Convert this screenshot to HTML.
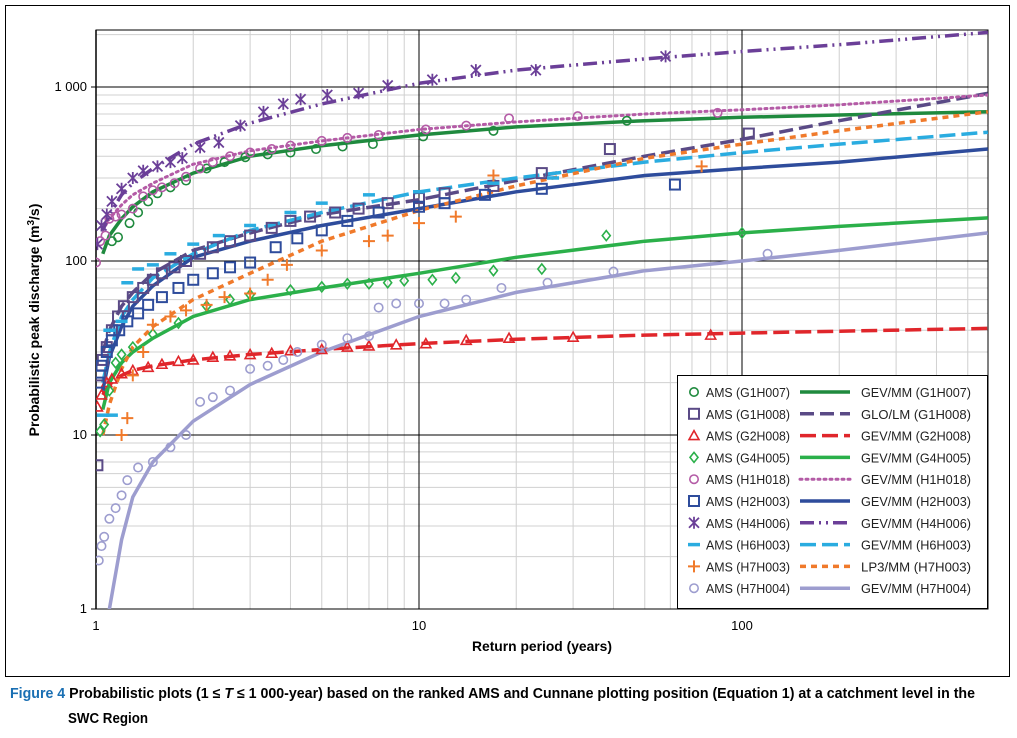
<!DOCTYPE html>
<html><head><meta charset="utf-8"><style>
body{margin:0;background:#fff;width:1017px;height:733px;overflow:hidden;font-family:"Liberation Sans Narrow","Liberation Sans",sans-serif}
svg text{font-family:"Liberation Sans Narrow","Liberation Sans",sans-serif}
</style></head><body>
<svg id="c" width="1017" height="733"></svg>
<script>
const xTicks=[1,10,100];
const yTicks=[1,10,100,1000];
const yTickLabels=["1","10","100","1 000"];
const T_G1H007=[1.12,1.17,1.27,1.35,1.45,1.55,1.7,1.9,2.2,2.5,2.9,3.4,4.0,4.8,5.8,7.2,10.3,17,44];
const Q_G1H007=[130,137,165,190,220,245,265,290,340,370,395,410,420,440,455,470,520,560,640];
const T_G1H008=[1.01,1.03,1.05,1.08,1.12,1.17,1.22,1.3,1.4,1.5,1.6,1.75,1.9,2.1,2.3,2.6,3.0,3.5,4.0,4.6,5.5,6.5,8,10,12,17,24,39,105];
const Q_G1H008=[6.7,22,27,32,40,48,55,62,70,78,85,92,100,110,120,130,140,155,170,180,190,200,215,230,245,270,320,440,540];
const T_G2H008=[1.01,1.04,1.08,1.12,1.2,1.3,1.45,1.6,1.8,2,2.3,2.6,3,3.5,4,5,6,7,8.5,10.5,14,19,30,80];
const Q_G2H008=[14.5,17,20,21,22.5,23.5,24.5,25.5,26.5,27,28,28.5,29,29.5,30.5,31,32,32.5,33,33.5,35,36,36.5,37.5];
const T_G4H005=[1.03,1.06,1.1,1.15,1.2,1.3,1.5,1.8,2.2,2.6,3,4,5,6,7,8,9,11,13,17,24,38,100];
const Q_G4H005=[10.5,11.5,18,26,29,32,38,44,55,60,64,68,71,74,74,75,77,78,80,88,90,140,145];
const T_H1H018=[1.0,1.03,1.07,1.1,1.15,1.2,1.3,1.4,1.5,1.6,1.75,1.9,2.1,2.3,2.6,3,3.5,4,5,6,7.5,10.5,14,19,31,84];
const Q_H1H018=[98,130,140,175,180,185,200,235,255,265,280,305,340,370,400,420,440,460,490,510,530,570,600,660,680,710];
const T_H2H003=[1.02,1.04,1.08,1.12,1.18,1.25,1.35,1.45,1.6,1.8,2,2.3,2.6,3,3.6,4.2,5,6,7.5,10,12,16,24,62];
const Q_H2H003=[20,25,30,35,40,45,50,56,62,70,78,85,92,98,120,135,150,170,190,205,215,240,260,275];
const T_H4H006=[1.01,1.04,1.08,1.12,1.2,1.3,1.4,1.55,1.7,1.85,2.1,2.4,2.8,3.3,3.8,4.3,5.2,6.5,8,11,15,23,58];
const Q_H4H006=[125,160,185,220,260,300,330,350,370,390,450,480,600,720,800,850,900,920,1020,1100,1250,1250,1500];
const T_H6H003=[1.05,1.12,1.1,1.2,1.25,1.35,1.5,1.7,2,2.4,3,4,5,7,10,17,26];
const Q_H6H003=[13,13,40,45,75,90,95,110,125,140,160,190,215,240,250,280,300];
const T_H7H003=[1.2,1.25,1.3,1.4,1.5,1.7,1.9,2.2,2.5,3,3.4,3.9,5,7,8,10,13,17,75];
const Q_H7H003=[10,12.5,22,30,43,48,52,56,62,65,78,95,115,130,140,165,180,310,350];
const T_H7H004=[1.02,1.04,1.06,1.1,1.15,1.2,1.25,1.35,1.5,1.7,1.9,2.1,2.3,2.6,3,3.4,3.8,4.2,5,6,7,7.5,8.5,10,12,14,18,25,40,120];
const Q_H7H004=[1.9,2.3,2.6,3.3,3.8,4.5,5.5,6.5,7,8.5,10,15.5,16.5,18,24,25,27,30,33,36,37,54,57,57,57,60,70,75,87,110];
const fitT=[1.05,1.1,1.2,1.3,1.5,2,3,5,10,20,50,100,200,577];
const F_G1H007=[110,140,175,205,250,320,400,460,530,590,640,670,690,720];
const F_G1H008=[30,40,55,66,85,115,145,185,225,290,400,500,640,920];
const F_G2H008=[17,19.5,22,23.5,25,27,29,31,33.5,35.5,37.5,38.5,39.5,41];
const F_G4H005=[14,20,26,30,36,48,60,70,85,105,130,145,158,177];
const F_H1H018=[150,175,210,240,280,360,430,490,570,630,700,740,790,900];
const F_H2H003=[18,28,42,55,72,105,130,160,200,250,310,340,370,440];
const F_H4H006=[150,185,240,280,340,470,620,800,1050,1250,1450,1600,1750,2060];
const F_H6H003=[20,30,48,60,80,110,150,190,250,300,370,420,470,550];
const F_H7H003=[10,15,24,32,42,60,85,130,195,270,390,470,560,720];
const F_H7H004=[0.5,1,2.5,4.4,7,12,19.5,30,48,66,88,100,115,145];

const X0=96,DEC=323,Y0=609,YDEC=174,XR=988,YT=30;
const xs=t=>X0+Math.log10(t)*DEC, ys=q=>Y0-Math.log10(q)*YDEC;
const S='http://www.w3.org/2000/svg', svg=document.getElementById('c');
function mk(tag,at,par){const e=document.createElementNS(S,tag);for(const k in at)e.setAttribute(k,at[k]);(par||svg).appendChild(e);return e;}
let fr=mk('rect',{x:5.5,y:5.5,width:1004,height:671,fill:'none',stroke:'#000','stroke-width':1});


const g=mk('g',{});


for(let d=0;d<3;d++)for(let m=2;m<=9;m++){const t=Math.pow(10,d)*m;const x=xs(t);if(x<XR)mk('line',{x1:x,x2:x,y1:YT,y2:Y0,stroke:'#d0d0d0','stroke-width':1},g);}
for(let d=0;d<4;d++)for(let m=2;m<=9;m++){const y=ys(Math.pow(10,d)*m);if(y>YT)mk('line',{x1:X0,x2:XR,y1:y,y2:y,stroke:'#d0d0d0','stroke-width':1},g);}
xTicks.forEach((t,i)=>{const x=xs(t);if(i>0)mk('line',{x1:x,x2:x,y1:YT,y2:Y0,stroke:'#000','stroke-width':1},g);
 const tx=mk('text',{x:x,y:Y0+21,'text-anchor':'middle','font-size':13});tx.textContent=t;
 
 });
yTicks.forEach((q,i)=>{const y=ys(q);if(i>0)mk('line',{x1:X0,x2:XR,y1:y,y2:y,stroke:'#000','stroke-width':1},g);
 mk('line',{x1:X0-5,x2:X0,y1:y,y2:y,stroke:'#000'});
 const tx=mk('text',{x:X0-9,y:y+4,'text-anchor':'end','font-size':13});tx.textContent=yTickLabels[i];
 
 });
mk('rect',{x:X0,y:YT,width:XR-X0,height:Y0-YT,fill:'none',stroke:'#000','stroke-width':1});
mk('line',{x1:X0,x2:X0,y1:YT,y2:Y0,stroke:'#000','stroke-width':1.5});
let xt=mk('text',{x:542,y:651,'text-anchor':'middle','font-size':14,'font-weight':'bold',textLength:140,lengthAdjust:'spacingAndGlyphs'});xt.textContent='Return period (years)';


let yt=mk('text',{x:0,y:0,'text-anchor':'middle','font-size':14,'font-weight':'bold',transform:'translate(39,320) rotate(-90)'});
yt.innerHTML='Probabilistic peak discharge (m<tspan dy="-5" font-size="10">3</tspan><tspan dy="5">/s)</tspan>';



function marker(type,x,y,col,par){
 const w=1.6;
 if(type==='circle')return mk('circle',{cx:x,cy:y,r:4.2,fill:'none',stroke:col,'stroke-width':w},par);
 if(type==='square')return mk('rect',{x:x-5,y:y-5,width:10,height:10,fill:'none',stroke:col,'stroke-width':2},par);
 if(type==='triangle')return mk('polygon',{points:`${x},${y-5} ${x+5},${y+4} ${x-5},${y+4}`,fill:'none',stroke:col,'stroke-width':w},par);
 if(type==='diamond')return mk('polygon',{points:`${x},${y-5} ${x+4},${y} ${x},${y+5} ${x-4},${y}`,fill:'none',stroke:col,'stroke-width':w},par);
 if(type==='star')return mk('path',{d:`M${x-5} ${y-5}L${x+5} ${y+5}M${x+5} ${y-5}L${x-5} ${y+5}M${x} ${y-6}V${y+6}`,stroke:col,'stroke-width':1.8},par);
 if(type==='dash')return mk('line',{x1:x-6,x2:x+6,y1:y,y2:y,stroke:col,'stroke-width':3.5},par);
 if(type==='plus')return mk('path',{d:`M${x-6} ${y}H${x+6}M${x} ${y-6}V${y+6}`,stroke:col,'stroke-width':2},par);
}
const series=[
 ['G1H007','circle','#1f8a3e',T_G1H007,Q_G1H007,F_G1H007,'GEV/MM','',3.5],
 ['G1H008','square','#5a4a86',T_G1H008,Q_G1H008,F_G1H008,'GLO/LM','14 6',3.5],
 ['G2H008','triangle','#e0262b',T_G2H008,Q_G2H008,F_G2H008,'GEV/MM','16 6',3.5],
 ['G4H005','diamond','#2bb04a',T_G4H005,Q_G4H005,F_G4H005,'GEV/MM','',3.5],
 ['H1H018','circle','#b45ba6',T_H1H018,Q_H1H018,F_H1H018,'GEV/MM','2 4',3],
 ['H2H003','square','#2e4c9c',T_H2H003,Q_H2H003,F_H2H003,'GEV/MM','',3.5],
 ['H4H006','star','#6b3f98',T_H4H006,Q_H4H006,F_H4H006,'GEV/MM','14 5 2 5 2 5',3.5],
 ['H6H003','dash','#2aace0',T_H6H003,Q_H6H003,F_H6H003,'GEV/MM','16 6',3.5],
 ['H7H003','plus','#f07a2b',T_H7H003,Q_H7H003,F_H7H003,'LP3/MM','6 5',3.5],
 ['H7H004','circle','#9d9dcf',T_H7H004,Q_H7H004,F_H7H004,'GEV/MM','',3.5]
];
const clip=mk('clipPath',{id:'pc'});mk('rect',{x:X0,y:YT,width:XR-X0,height:Y0-YT},clip);
series.forEach(s=>{
 const [id,type,col,T,Q,F,fn,da,lw]=s;
 const gl=mk('g',{'clip-path':'url(#pc)'});
 
 
 const d=fitT.map((t,i)=>(i?'L':'M')+xs(t).toFixed(1)+' '+ys(F[i]).toFixed(1)).join('');
 mk('path',{d:d,fill:'none',stroke:col,'stroke-width':lw,'stroke-dasharray':da||'none','stroke-linecap':da==='2 4'?'round':'butt'},gl);
});
series.forEach(s=>{
 const [id,type,col,T,Q]=s;
 const gm=mk('g',{'clip-path':'url(#pc)'});
 
 
 T.forEach((t,i)=>{const m=marker(type,xs(t),ys(Q[i]),col,gm);
  
  });
});
const lg=mk('g',{});


mk('rect',{x:677.5,y:375.5,width:310,height:233,fill:'#fff',stroke:'#000','stroke-width':1},lg);
series.forEach((s,i)=>{
 const [id,type,col,T,Q,F,fn,da,lw]=s;const y=392+i*21.8;
 const e=mk('g',{},lg);
 
 
 marker(type,694,y,col,e);
 let t=mk('text',{x:706,y:y+5,'font-size':13,fill:'#222',textLength:84,lengthAdjust:'spacingAndGlyphs'},e);t.textContent='AMS ('+id+')';
 mk('line',{x1:800,x2:850,y1:y,y2:y,stroke:col,'stroke-width':lw,'stroke-dasharray':da||'none','stroke-linecap':da==='2 4'?'round':'butt'},e);
 let t2=mk('text',{x:861,y:y+5,'font-size':13,fill:'#222',textLength:110,lengthAdjust:'spacingAndGlyphs'},e);t2.textContent=fn+' ('+id+')';
});
let c1=mk('text',{x:10,y:698,'font-size':14.5,textLength:965,lengthAdjust:'spacingAndGlyphs'});
c1.innerHTML='<tspan fill="#1a6fb3" font-weight="bold">Figure 4</tspan><tspan font-weight="bold"> Probabilistic plots (1 ≤ <tspan font-style="italic">T</tspan> ≤ 1 000-year) based on the ranked AMS and Cunnane plotting position (Equation 1) at a catchment level in the</tspan>';


let c2=mk('text',{x:68,y:723,'font-size':14.5,'font-weight':'bold',textLength:80,lengthAdjust:'spacingAndGlyphs'});c2.textContent='SWC Region';


</script>
</body></html>
